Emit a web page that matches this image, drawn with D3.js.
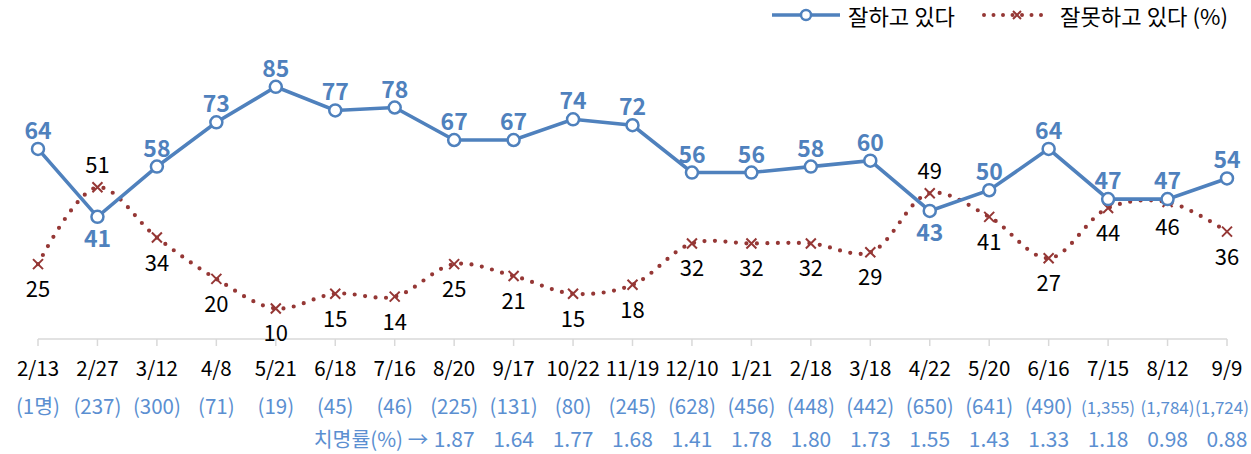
<!DOCTYPE html>
<html><head><meta charset="utf-8">
<script src="https://cdn.jsdelivr.net/npm/d3@7"></script>
<style>
body{margin:0;background:#fff;}
svg{display:block;font-family:"Noto Sans CJK KR","Noto Sans",sans-serif;}
</style></head>
<body><svg id="c" width="1251" height="454"></svg>
<script>
const dates = ["2/13","2/27","3/12","4/8","5/21","6/18","7/16","8/20","9/17","10/22","11/19","12/10","1/21","2/18","3/18","4/22","5/20","6/16","7/15","8/12","9/9"];
const good = [64,41,58,73,85,77,78,67,67,74,72,56,56,58,60,43,50,64,47,47,54];
const bad = [25,51,34,20,10,15,14,25,21,15,18,32,32,32,29,49,41,27,44,46,36];
const deaths = ["(1명)","(237)","(300)","(71)","(19)","(45)","(46)","(225)","(131)","(80)","(245)","(628)","(456)","(448)","(442)","(650)","(641)","(490)","(1,355)","(1,784)","(1,724)"];
const fatality = [null,null,null,null,null,null,null,"1.87","1.64","1.77","1.68","1.41","1.78","1.80","1.73","1.55","1.43","1.33","1.18","0.98","0.88"];
const goodBelow = [1,15];          // indices where 잘하고 label sits below
const badAbove = [1,15];           // indices where 잘못하고 label sits above
const seriesNames = ["잘하고 있다","잘못하고 있다 (%)"];

const BLUE = "#4f81bd", RED = "#953735", LBLUE = "#5b8fd1";
const W = 1251;
const svg = d3.select("#c");
const x = d3.scalePoint().domain(dates).range([38,1227]);
const y = d3.scaleLinear().domain([0,100]).range([338,42.5]);

// axis
const ax = svg.append("g").attr("transform","translate(0,339)");
ax.append("line").attr("x1",x(dates[0])).attr("x2",x(dates[dates.length-1])).attr("stroke","#d9d9d9").attr("stroke-width",1.5);
ax.selectAll("line.t").data(dates).join("line").attr("class","t")
  .attr("x1",d=>x(d)).attr("x2",d=>x(d)).attr("y1",0).attr("y2",7)
  .attr("stroke","#d9d9d9").attr("stroke-width",1.5);

// red smoothed dotted line
svg.append("path").datum(bad)
  .attr("d", d3.line().x((d,i)=>x(dates[i])).y(d=>y(d)).curve(d3.curveCatmullRom.alpha(0.5)))
  .attr("fill","none").attr("stroke",RED).attr("stroke-width",4.2)
  .attr("stroke-linecap","round").attr("stroke-dasharray","0 10.5");
// x markers
const xm = svg.selectAll("g.xm").data(bad).join("g").attr("class","xm")
  .attr("transform",(d,i)=>`translate(${x(dates[i])},${y(d)})`);
xm.append("path").attr("d","M-5,-5L5,5M-5,5L5,-5").attr("stroke",RED).attr("stroke-width",2);

// blue line
svg.append("path").datum(good)
  .attr("d", d3.line().x((d,i)=>x(dates[i])).y(d=>y(d)))
  .attr("fill","none").attr("stroke",BLUE).attr("stroke-width",3.6);
svg.selectAll("circle.g").data(good).join("circle").attr("class","g")
  .attr("cx",(d,i)=>x(dates[i])).attr("cy",d=>y(d)).attr("r",6)
  .attr("fill","#fff").attr("stroke",BLUE).attr("stroke-width",2.5);

// labels
svg.selectAll("text.gl").data(good).join("text").attr("class","gl")
  .attr("x",(d,i)=>x(dates[i])).attr("y",(d,i)=>y(d)+(goodBelow.includes(i)?30:-10))
  .attr("text-anchor","middle").attr("font-size",23).attr("font-weight","bold").attr("fill",BLUE)
  .text(d=>d);
svg.selectAll("text.bl").data(bad).join("text").attr("class","bl")
  .attr("x",(d,i)=>x(dates[i])).attr("y",(d,i)=>y(d)+(badAbove.includes(i)?-14:33))
  .attr("text-anchor","middle").attr("font-size",22).attr("fill","#000")
  .text(d=>d);

// x labels rows
svg.selectAll("text.xl").data(dates).join("text").attr("class","xl")
  .attr("x",d=>x(d)).attr("y",376).attr("text-anchor","middle").attr("font-size",20.5).attr("fill","#000").text(d=>d);
const dl = svg.selectAll("text.dl").data(deaths).join("text").attr("class","dl")
  .attr("x",(d,i)=>x(dates[i])).attr("y",414).attr("text-anchor","middle")
  .attr("font-size",d=>d.length>6?17:20.5).attr("fill",LBLUE).text(d=>d);
// keep long labels inside the right edge
dl.each(function(d,i){
  const w = this.getComputedTextLength();
  const cx = x(dates[i]);
  if (cx + w/2 > W - 2) d3.select(this).attr("x", W - 2 - w/2);
});
svg.selectAll("text.fl").data(fatality).join("text").attr("class","fl")
  .attr("x",(d,i)=>x(dates[i])).attr("y",447).attr("text-anchor","middle")
  .attr("font-size",21).attr("fill",LBLUE).text(d=>d===null?"":d);
const firstF = fatality.findIndex(d=>d!==null);
svg.append("text").attr("x",x(dates[firstF])-26).attr("y",447).attr("text-anchor","end")
  .attr("font-size",20.5).attr("fill",LBLUE).text("치명률(%) →");

// legend
function fitText(g, x0, y0, str, target){
  const t = g.append("text").attr("x",0).attr("y",0).attr("font-size",21.5).attr("fill","#000").text(str);
  const w = t.node().getComputedTextLength() || target;
  t.attr("transform",`translate(${x0},${y0}) scale(${target/w},1)`);
}
const lg = svg.append("g");
lg.append("line").attr("x1",772).attr("x2",840).attr("y1",15).attr("y2",15).attr("stroke",BLUE).attr("stroke-width",3.6);
lg.append("circle").attr("cx",806).attr("cy",15).attr("r",5).attr("fill","#fff").attr("stroke",BLUE).attr("stroke-width",2.5);
fitText(lg, 848, 25, seriesNames[0], 107);
lg.append("line").attr("x1",984).attr("x2",1050).attr("y1",15).attr("y2",15).attr("stroke",RED).attr("stroke-width",4)
  .attr("stroke-linecap","round").attr("stroke-dasharray","0 9.5");
lg.append("path").attr("transform","translate(1017,15)").attr("d","M-4,-4L4,4M-4,4L4,-4").attr("stroke",RED).attr("stroke-width",2);
fitText(lg, 1060, 25, seriesNames[1], 168);
</script></body></html>
